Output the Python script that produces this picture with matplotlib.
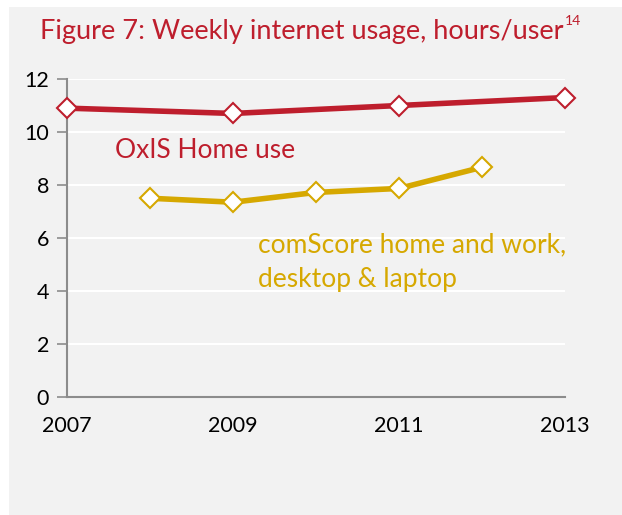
import numpy as np
import matplotlib.pyplot as plt
from matplotlib.patches import Rectangle

plt.rcParams['font.family'] = ['Lato', 'DejaVu Sans']

# Data
oxis_years = [2007, 2009, 2011, 2013]
oxis_hours = [10.9, 10.7, 11.0, 11.3]
comscore_years = [2008, 2009, 2010, 2011, 2012]
comscore_hours = [7.5, 7.35, 7.72, 7.87, 8.67]
yticks = [0, 2, 4, 6, 8, 10, 12]
xticks = [2007, 2009, 2011, 2013]

red = '#BE1E2D'
gold = '#D6A800'
panel = '#F2F2F2'

fig = plt.figure(figsize=(6.22, 5.15), dpi=100)
# grey panel behind everything, white strip at left and top
fig.patches.append(Rectangle((9 / 622, 0), 1, (515 - 7) / 515, transform=fig.transFigure,
                             facecolor=panel, edgecolor='none', zorder=-1))

ax = fig.add_axes([67 / 622, (515 - 397) / 515, (565 - 67) / 622, (397 - 79) / 515])
ax.set_facecolor(panel)

ax.plot(oxis_years, oxis_hours, color=red, lw=4, marker='D', ms=10.5,
        mfc='white', mec=red, mew=1.5, zorder=3, clip_on=False)
ax.plot(comscore_years, comscore_hours, color=gold, lw=4, marker='D', ms=10.5,
        mfc='white', mec=gold, mew=1.5, zorder=3, clip_on=False)

ax.set_xlim(2007, 2013)
ax.set_ylim(0, 12)
ax.set_yticks(yticks)
ax.set_xticks(xticks)
ax.yaxis.grid(True, color='white', lw=1.5)
ax.set_axisbelow(True)

for s in ['top', 'right']:
    ax.spines[s].set_visible(False)
for s in ['left', 'bottom']:
    ax.spines[s].set_color('#8C8C8C')
    ax.spines[s].set_linewidth(1.5)

ax.tick_params(axis='y', length=7, width=1.2, color='#8C8C8C', labelsize=15.5, pad=6)
ax.tick_params(axis='x', length=0, labelsize=15.5, pad=14)

# series labels
ax.text(2007.58, 9.3, 'OxIS Home use', color=red, fontsize=19, va='center')
ax.text(2009.3, 5.74, 'comScore home and work,', color=gold, fontsize=19, va='center')
ax.text(2009.3, 4.42, 'desktop & laptop', color=gold, fontsize=19, va='center')

fig.text(40 / 622, 1 - 31 / 515, 'Figure 7: Weekly internet usage, hours/user', color=red,
         fontsize=19.5, ha='left', va='center')
fig.text(565 / 622, 1 - 21 / 515, '14', color=red, fontsize=10, ha='left', va='center')

fig.savefig('out.png', dpi=100, facecolor='white')
